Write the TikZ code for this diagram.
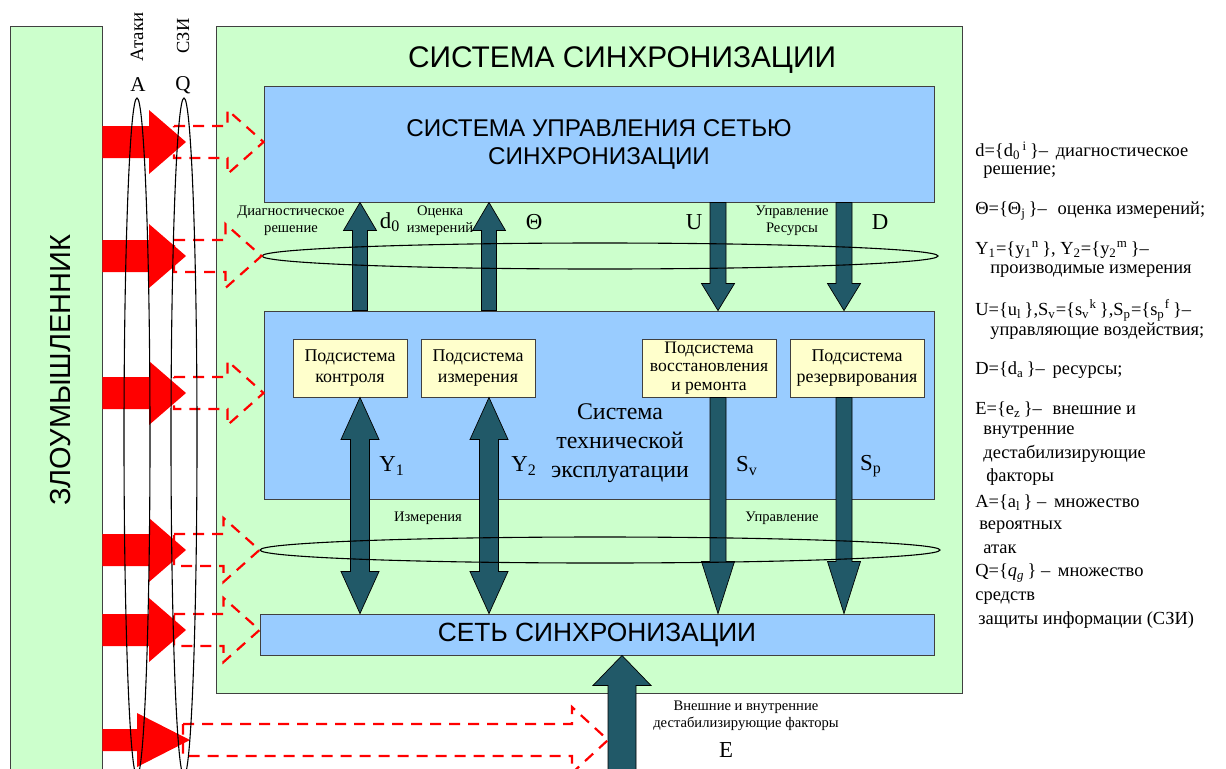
\documentclass[tikz,border=0pt]{standalone}
\usepackage{fontspec}
\setmainfont{Liberation Serif}
\newfontfamily\arialfont{Liberation Sans}
\usetikzlibrary{shapes.geometric,calc}

\definecolor{boxgreen}{HTML}{CCFFCC}
\definecolor{boxblue}{HTML}{99CCFF}
\definecolor{boxyellow}{HTML}{FFFFCC}
\definecolor{arrteal}{HTML}{215968}

\newlength{\pxu}
\setlength{\pxu}{0.02cm}

\tikzset{
  frame/.style={draw=black!75, line width=0.9\pxu, inner sep=0pt},
  greenbox/.style={frame, fill=boxgreen},
  bluebox/.style={frame, fill=boxblue, align=center, font=\arialfont\fontsize{13.8}{16}\selectfont},
  subbox/.style={frame, fill=boxyellow, align=center, minimum height=58\pxu, font=\fontsize{10.2}{12.4}\selectfont},
  blockarr/.style={fill=arrteal, draw=black, line width=0.7\pxu},
  redarr/.style={fill=red},
  dasharr/.style={draw=red, line width=2.2\pxu, dash pattern=on 11\pxu off 8\pxu},
  ring/.style={ellipse, draw=black, line width=1.1\pxu, inner sep=0pt},
  small/.style={font=\fontsize{8.3}{9.6}\selectfont, align=center},
  sym/.style={font=\fontsize{13}{15}\selectfont},
  legend/.style={anchor=west, inner sep=0pt, font=\fontsize{10.5}{12}\selectfont},
}

% block arrows: #1 style, #2 tail, #3 tip, #4 half shaft, #5 half head, #6 head length (px)
\newcommand{\vblock}[6]{%
  \path[#1] let \p1=#2, \p2=#3, \n1={\y2-(#6)*\pxu} in
    ({\x2-#4*\pxu},\y1) -- ({\x2-#4*\pxu},\n1) -- ({\x2-#5*\pxu},\n1) -- (\x2,\y2)
    -- ({\x2+#5*\pxu},\n1) -- ({\x2+#4*\pxu},\n1) -- ({\x2+#4*\pxu},\y1) -- cycle;}
\newcommand{\hblock}[6]{%
  \path[#1] let \p1=#2, \p2=#3 in
    (\x1,{\y2+#4*\pxu}) -- ({\x2-#6*\pxu},{\y2+#4*\pxu}) -- ({\x2-#6*\pxu},{\y2+#5*\pxu}) -- (\x2,\y2)
    -- ({\x2-#6*\pxu},{\y2-#5*\pxu}) -- ({\x2-#6*\pxu},{\y2-#4*\pxu}) -- (\x1,{\y2-#4*\pxu}) -- cycle;}
% double block arrow: #1 lower tip, #2 upper tip
\newcommand{\dblock}[5]{%
  \path[blockarr] let \p1=#1, \p2=#2 in
    ({\x2-#3*\pxu},{\y1+#5*\pxu}) -- ({\x2-#3*\pxu},{\y2-#5*\pxu}) -- ({\x2-#4*\pxu},{\y2-#5*\pxu}) -- (\x2,\y2)
    -- ({\x2+#4*\pxu},{\y2-#5*\pxu}) -- ({\x2+#3*\pxu},{\y2-#5*\pxu}) -- ({\x2+#3*\pxu},{\y1+#5*\pxu})
    -- ({\x2+#4*\pxu},{\y1+#5*\pxu}) -- (\x2,\y1) -- ({\x2-#4*\pxu},{\y1+#5*\pxu}) -- cycle;}

\begin{document}
\begin{tikzpicture}[x=0.02cm, y=-0.02cm]
    \useasboundingbox (0,0) rectangle (1226,768);
    \clip (0,0) rectangle (1226,768);

    % Boxes
    \node [greenbox, minimum width=92\pxu, minimum height=770\pxu] (evil) at (56,411) {};
    \node [greenbox, minimum width=746\pxu, minimum height=667\pxu] (sync) at (589,359.5) {};
    \node [bluebox, minimum width=670\pxu, minimum height=116\pxu] (top) at (599,144)
        {СИСТЕМА УПРАВЛЕНИЯ СЕТЬЮ\\СИНХРОНИЗАЦИИ};
    \node [bluebox, minimum width=670\pxu, minimum height=188\pxu] (mid) at (599,405) {};
    \node [bluebox, minimum width=674\pxu, minimum height=41\pxu, font=\arialfont\fontsize{15}{17}\selectfont]
        (net) at (597,634.5) {СЕТЬ СИНХРОНИЗАЦИИ};
    \node [subbox, minimum width=114\pxu] (ctl) at (350,368) {Подсистема\\контроля};
    \node [subbox, minimum width=114\pxu] (meas) at (478,368) {Подсистема\\измерения};
    \node [subbox, minimum width=134\pxu, font=\fontsize{10}{10.6}\selectfont] (rep) at (709,368)
        {Подсистема\\восстановления\\и ремонта};
    \node [subbox, minimum width=134\pxu] (res) at (857,368) {Подсистема\\резервирования};

    % Arrow columns
    \coordinate (cd) at (360,0);
    \coordinate (ct) at (489,0);
    \coordinate (cu) at (718,0);
    \coordinate (cr) at (844,0);
    \coordinate (ebot) at (622,790);

    % Dark arrows
    \vblock{blockarr}{(mid.north -| cd)}{(top.south -| cd)}{7.5}{16.5}{28}
    \vblock{blockarr}{(mid.north -| ct)}{(top.south -| ct)}{7.5}{16.5}{28}
    \vblock{blockarr}{(top.south -| cu)}{(mid.north -| cu)}{8}{16.5}{-27}
    \vblock{blockarr}{(top.south -| cr)}{(mid.north -| cr)}{8}{16.5}{-27}
    \dblock{(net.north -| cd)}{(ctl.south -| cd)}{9.5}{19}{42}
    \dblock{(net.north -| ct)}{(meas.south -| ct)}{9.5}{19}{42}
    \vblock{blockarr}{(rep.south -| cu)}{(net.north -| cu)}{8}{16.5}{-52}
    \vblock{blockarr}{(res.south -| cr)}{(net.north -| cr)}{8}{16.5}{-52}
    \vblock{blockarr}{(ebot)}{(net.south -| ebot)}{14}{29}{30}

    % Rings
    \node [ring, minimum width=676\pxu, minimum height=26\pxu] (up) at (600,256) {};
    \node [ring, minimum width=680\pxu, minimum height=26\pxu] (low) at (600,550) {};

    % Attack rows
    \coordinate (r1) at (0,142);
    \coordinate (r3) at (0,393);
    \coordinate (r5) at (0,630);
    \coordinate (r6) at (0,740);
    \coordinate (rt) at (186,0);
    \coordinate (qs) at (174,0);
    \coordinate (eleft) at (608,740);

    % Red arrows
    \hblock{redarr}{(evil.east |- r1)}{(rt |- r1)}{16}{32}{37}
    \hblock{redarr}{(evil.east |- up.west)}{(rt |- up.west)}{16}{32}{37}
    \hblock{redarr}{(evil.east |- r3)}{(rt |- r3)}{16}{32}{37}
    \hblock{redarr}{(evil.east |- low.west)}{(rt |- low.west)}{16}{32}{37}
    \hblock{redarr}{(evil.east |- r5)}{(rt |- r5)}{16}{32}{37}
    \hblock{redarr}{(evil.east |- r6)}{(190,740)}{11}{27}{53}

    % Dashed arrows
    \hblock{dasharr}{(qs |- r1)}{(top.west |- r1)}{16}{32}{36}
    \hblock{dasharr}{(qs |- up.west)}{(up.west)}{16}{32}{36}
    \hblock{dasharr}{(qs |- r3)}{(mid.west |- r3)}{16}{32}{36}
    \hblock{dasharr}{(qs |- low.west)}{(low.west)}{16}{32}{36}
    \hblock{dasharr}{(qs |- r5)}{(net.west |- r5)}{16}{32}{36}
    \hblock{dasharr}{(183,740)}{(eleft)}{16}{33}{36}

    % A and Q rings
    \node [ring, minimum width=26\pxu, minimum height=678\pxu] (ra) at (137,437) {};
    \node [ring, minimum width=26\pxu, minimum height=678\pxu] (rq) at (184,437) {};

    % Labels
    \node [font=\arialfont\fontsize{17}{20}\selectfont] (title) at (622,60) {СИСТЕМА СИНХРОНИЗАЦИИ};
    \node [rotate=90, font=\arialfont\fontsize{16.5}{18}\selectfont] (evl) at (61,370) {ЗЛОУМЫШЛЕННИК};
    \node [rotate=90, font=\fontsize{10.7}{12}\selectfont] (att) at (137,37) {Атаки};
    \node [rotate=90, font=\fontsize{10.5}{12}\selectfont] (szi) at (183,36) {СЗИ};
    \node [font=\fontsize{12}{14}\selectfont] (la) at (138,85) {A};
    \node [font=\fontsize{12}{14}\selectfont] (lq) at (183,85) {Q};
    \node [align=center, font=\fontsize{13.6}{16.5}\selectfont] (tex) at (620,443) {Система\\технической\\эксплуатации};

    \node [small] (ldiag) at (291,221) {Диагностическое\\решение};
    \node [sym] (ld) at (390,222) {d\textsubscript{0}};
    \node [small] (lest) at (440,221) {Оценка\\измерений};
    \node [sym] (lth) at (534,222) {Θ};
    \node [sym] (lu) at (694,222) {U};
    \node [small] (lctl) at (792,221) {Управление\\Ресурсы};
    \node [sym] (ldd) at (880,222) {D};
    \node [sym] (ly1) at (392,466) {Y\textsubscript{1}};
    \node [sym] (ly2) at (524,466) {Y\textsubscript{2}};
    \node [sym] (lsv) at (747,466) {S\textsubscript{v}};
    \node [sym] (lsp) at (871,466) {S\textsubscript{p}};
    \node [small] (lmeas) at (428,518) {Измерения};
    \node [small] (lupr) at (782,518) {Управление};
    \node [small] (lext) at (746,716) {Внешние и внутренние\\дестабилизирующие факторы};
    \node [sym] (le) at (726,750) {E};

    % Legend
    \node [legend] (l1) at (975,151) {d=\{d\textsubscript{0}\textsuperscript{\,i}\,\}–\, диагностическое};
    \node [legend] (l2) at (983,172) {решение;};
    \node [legend] (l3) at (975,211) {Θ=\{Θ\textsubscript{j}\,\}–\,\, оценка измерений;};
    \node [legend] (l4) at (975,250) {Y\textsubscript{1}=\{y\textsubscript{1}\textsuperscript{n}\,\}, Y\textsubscript{2}=\{y\textsubscript{2}\textsuperscript{m}\,\}–};
    \node [legend] (l5) at (990,271) {производимые измерения};
    \node [legend] (l6) at (975,310) {U=\{u\textsubscript{l}\,\},S\textsubscript{v}=\{s\textsubscript{v}\textsuperscript{k}\,\},S\textsubscript{p}=\{s\textsubscript{p}\textsuperscript{f}\,\}–};
    \node [legend] (l7) at (990,331) {управляющие воздействия;};
    \node [legend] (l8) at (975,370) {D=\{d\textsubscript{a}\,\}–\, ресурсы;};
    \node [legend] (l9) at (975,410) {E=\{e\textsubscript{z}\,\}–\,\, внешние и};
    \node [legend] (l10) at (983,432) {внутренние};
    \node [legend] (l11) at (983,454) {дестабилизирующие};
    \node [legend] (l12) at (986,477) {факторы};
    \node [legend] (l13) at (975,503) {A=\{a\textsubscript{l}\,\} –\, множество};
    \node [legend] (l14) at (979,527) {вероятных};
    \node [legend] (l15) at (983,549) {атак};
    \node [legend] (l16) at (975,573) {Q=\{\textit{q\textsubscript{g}}\,\} –\, множество};
    \node [legend] (l17) at (975,598) {средств};
    \node [legend] (l18) at (978,620) {защиты информации (СЗИ)};
\end{tikzpicture}
\end{document}
